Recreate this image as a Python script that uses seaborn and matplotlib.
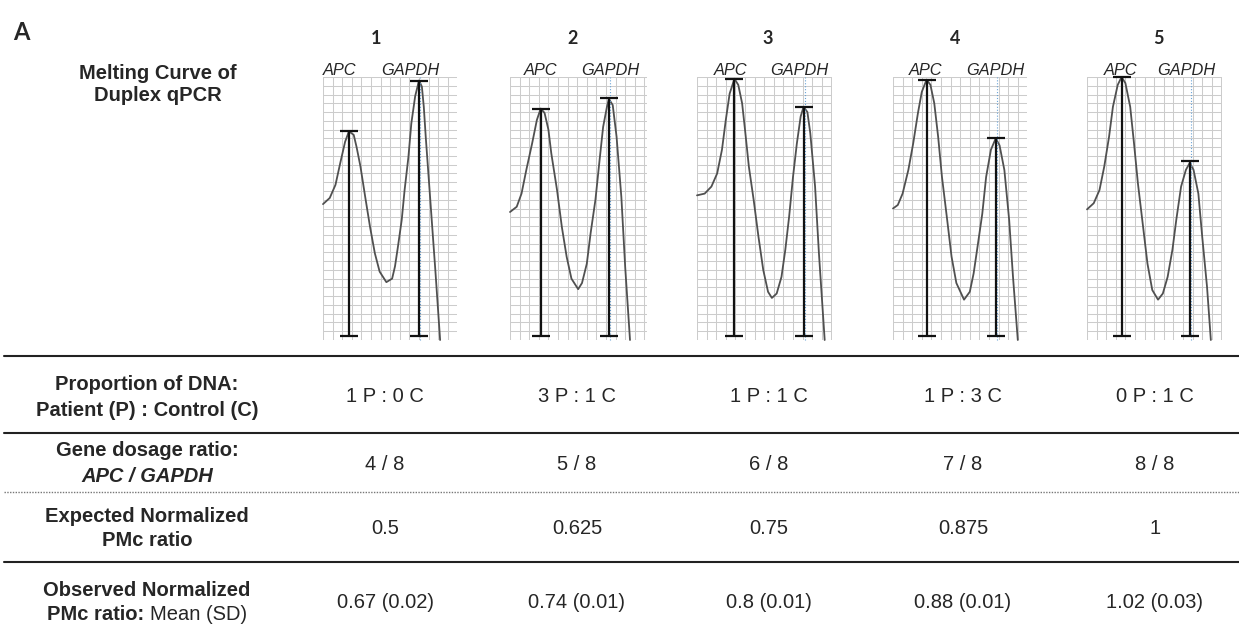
import seaborn as sns
import matplotlib.pyplot as plt
import pandas as pd
import numpy as np

# melting curves: temperature (C) and -dF/dT (grid units)
temp_p1 = [76.0, 76.7, 77.3, 77.8, 78.3, 78.7, 79.2, 79.5, 79.9, 80.4, 80.9, 81.4, 81.9, 82.6, 83.2,
           83.5, 83.8, 84.2, 84.5, 84.9, 85.2, 85.6, 86.0, 86.3, 86.5, 86.7, 87.2, 87.7, 88.2]
dfdt_p1 = [15.5, 16.2, 17.7, 20.2, 22.6, 23.8, 23.4, 22.0, 19.8, 16.3, 12.9, 9.9, 7.8, 6.6, 7.0,
           8.4, 10.6, 13.7, 17.1, 20.9, 24.7, 27.8, 29.6, 28.9, 26.6, 23.2, 15.6, 8.0, 0.0]

temp_p2 = [76.0, 76.7, 77.2, 77.7, 78.3, 78.8, 79.2, 79.6, 80.0, 80.3, 80.9, 81.4, 81.9, 82.4,
           83.1, 83.5, 84.0, 84.4, 84.9, 85.3, 85.7, 86.1, 86.3, 86.7, 87.1, 87.6, 88.0, 88.5]
dfdt_p2 = [14.6, 15.2, 16.7, 19.4, 22.4, 25.1, 26.4, 25.9, 24.0, 21.3, 17.1, 12.9, 9.5, 7.0,
           5.8, 6.5, 8.7, 12.2, 16.0, 20.2, 24.3, 26.6, 27.5, 26.8, 23.2, 16.3, 8.3, 0.0]

temp_p3 = [76.0, 76.8, 77.5, 78.1, 78.6, 79.0, 79.4, 79.9, 80.3, 80.7, 81.0, 81.4, 81.9, 82.4, 82.9,
           83.4, 83.8, 84.3, 84.8, 85.2, 85.6, 86.0, 86.4, 86.8, 87.1, 87.5, 87.8, 88.3, 88.7, 89.3]
dfdt_p3 = [16.5, 16.7, 17.5, 19.0, 21.7, 25.1, 28.1, 29.8, 29.1, 27.0, 24.0, 19.8, 16.0, 11.8, 8.0,
           5.5, 4.8, 5.3, 7.2, 10.3, 14.1, 18.6, 22.4, 25.5, 26.6, 26.0, 23.6, 17.5, 9.9, 0.0]

temp_p4 = [76.0, 76.5, 77.0, 77.6, 78.1, 78.6, 79.0, 79.5, 79.9, 80.3, 80.7, 81.1, 81.6, 82.1,
           82.6, 83.4, 84.0, 84.4, 84.8, 85.3, 85.7, 86.2, 86.7, 87.1, 87.6, 88.1, 88.5, 89.0]
dfdt_p4 = [15.0, 15.4, 16.7, 19.4, 22.4, 25.9, 28.3, 29.7, 29.1, 27.0, 23.2, 18.6, 14.1, 9.5,
           6.5, 4.6, 5.5, 7.6, 10.6, 14.4, 18.6, 21.7, 23.0, 22.2, 19.4, 13.7, 7.2, 0.0]

temp_p5 = [76.0, 76.7, 77.3, 77.8, 78.3, 78.7, 79.2, 79.6, 80.0, 80.5, 80.9, 81.3, 81.8, 82.3,
           82.8, 83.4, 83.9, 84.4, 84.9, 85.3, 85.8, 86.3, 86.7, 87.1, 87.6, 88.0, 88.5, 88.9]
dfdt_p5 = [14.9, 15.6, 17.1, 19.8, 23.2, 26.6, 29.1, 30.0, 29.3, 26.6, 22.4, 17.9, 13.3, 8.7,
           5.7, 4.6, 5.3, 7.2, 10.3, 13.7, 17.5, 19.4, 20.2, 19.4, 16.7, 11.8, 6.1, 0.0]

# peak heights marked with bars
apc_temp = [78.7, 79.2, 79.9, 79.5, 79.6]
apc_height = [23.8, 26.4, 29.8, 29.7, 30.0]
gapdh_temp = [86.0, 86.3, 87.1, 86.7, 86.7]
gapdh_height = [29.6, 27.6, 26.6, 23.0, 20.4]
bar_base = 0.45

# table
sample_ids = ["1", "2", "3", "4", "5"]
proportion = ["1 P : 0 C", "3 P : 1 C", "1 P : 1 C", "1 P : 3 C", "0 P : 1 C"]
dosage = ["4 / 8", "5 / 8", "6 / 8", "7 / 8", "8 / 8"]
expected = [0.5, 0.625, 0.75, 0.875, 1]
observed_mean = [0.67, 0.74, 0.8, 0.88, 1.02]
observed_sd = [0.02, 0.01, 0.01, 0.01, 0.03]

curves = [(temp_p1, dfdt_p1), (temp_p2, dfdt_p2), (temp_p3, dfdt_p3),
          (temp_p4, dfdt_p4), (temp_p5, dfdt_p5)]

# layout (pixels of the 1239x632 picture)
W, H = 1239, 632
panel_px = [(323, 457), (510, 647), (697, 832), (893, 1027), (1087, 1222)]
panel_top, panel_bot = 77, 340
apc_label_x = [77.7, 79.2, 79.5, 79.4, 79.5]
gapdh_label_x = [85.1, 86.5, 86.7, 86.7, 86.3]
num_x = [376, 573, 768, 955, 1158]
col_x = [385, 577, 769, 963, 1155]
label_x = 147
FS = 14.5


def fx(px):
    return px / W


def fy(py):
    return 1 - py / H


sns.set_theme(style="white")
plt.rcParams['font.family'] = ['Liberation Sans', 'DejaVu Sans']

fig = plt.figure(figsize=(12.39, 6.32), dpi=100)

# melting curve panels
for i, (temps, vals) in enumerate(curves):
    left, right = panel_px[i]
    ax = fig.add_axes([fx(left), fy(panel_bot), (right - left) / W, (panel_bot - panel_top) / H])
    df = pd.DataFrame({'Temp': temps, 'dFdT': vals})
    sns.lineplot(data=df, x='Temp', y='dFdT', ax=ax, color='#505050', linewidth=1.3,
                 estimator=None, sort=False)
    xmax = 76 + (right - left) / 9.6
    ax.set_xlim(76, xmax)
    ax.set_ylim(0, 30)
    ax.set_xticks(np.arange(76, xmax + 0.01, 1))
    ax.set_yticks(np.arange(0, 31, 1))
    ax.grid(True, color='#cccccc', linewidth=0.75)
    ax.set_axisbelow(True)
    ax.tick_params(length=0, labelbottom=False, labelleft=False)
    ax.set_xlabel('')
    ax.set_ylabel('')
    sns.despine(ax=ax, left=True, bottom=True)

    ax.axvline(gapdh_temp[i] + 0.1, color='#6aa3d6', linewidth=0.8, linestyle=':')
    for t, h in [(apc_temp[i], apc_height[i]), (gapdh_temp[i], gapdh_height[i])]:
        ax.errorbar([t], [(h + bar_base) / 2], yerr=[(h - bar_base) / 2], fmt='none',
                    ecolor='#111111', elinewidth=1.6, capsize=6.3, capthick=1.6)
    for art in ax.lines + list(ax.collections):
        art.set_clip_on(False)

    ax.text(apc_label_x[i], 30.25, 'APC', style='italic', fontsize=11.8, ha='center', va='baseline')
    ax.text(gapdh_label_x[i], 30.25, 'GAPDH', style='italic', fontsize=11.8, ha='center', va='baseline')
    fig.text(fx(num_x[i]), fy(44), sample_ids[i], family='Lato', weight='bold', fontsize=13,
             ha='center', va='baseline')

fig.text(fx(13), fy(40), 'A', family='Lato', weight='bold', fontsize=17, ha='left', va='baseline')
fig.text(fx(158), fy(79), 'Melting Curve of', weight='bold', fontsize=FS, ha='center', va='baseline')
fig.text(fx(158), fy(101), 'Duplex qPCR', weight='bold', fontsize=FS, ha='center', va='baseline')

# table rules
for y in [356, 433, 562]:
    fig.add_artist(plt.Line2D([fx(4), 1], [fy(y), fy(y)], color='#222222', linewidth=1.5))
fig.add_artist(plt.Line2D([fx(4), 1], [fy(492), fy(492)], color='#777777', linewidth=1.0,
                          linestyle=(0, (1, 1))))

# row labels
fig.text(fx(label_x), fy(390), 'Proportion of DNA:', weight='bold', fontsize=FS, ha='center', va='baseline')
fig.text(fx(label_x), fy(415.5), 'Patient (P) : Control (C)', weight='bold', fontsize=FS, ha='center', va='baseline')
fig.text(fx(label_x), fy(456.5), 'Gene dosage ratio:', weight='bold', fontsize=FS, ha='center', va='baseline')
fig.text(fx(label_x), fy(481.5), 'APC / GAPDH', weight='bold', style='italic', fontsize=FS, ha='center', va='baseline')
fig.text(fx(label_x), fy(521.5), 'Expected Normalized', weight='bold', fontsize=FS, ha='center', va='baseline')
fig.text(fx(label_x), fy(546), 'PMc ratio', weight='bold', fontsize=FS, ha='center', va='baseline')
fig.text(fx(label_x), fy(596), 'Observed Normalized', weight='bold', fontsize=FS, ha='center', va='baseline')
t1 = fig.text(0, fy(620.5), 'PMc ratio:', weight='bold', fontsize=FS, ha='left', va='baseline')
t2 = fig.text(0, fy(620.5), 'Mean (SD)', fontsize=FS, ha='left', va='baseline')
fig.canvas.draw()
r = fig.canvas.get_renderer()
w1 = t1.get_window_extent(r).width
w2 = t2.get_window_extent(r).width
gap = 5
start = label_x - (w1 + gap + w2) / 2
t1.set_x(fx(start))
t2.set_x(fx(start + w1 + gap))

# row values
for i in range(5):
    x = fx(col_x[i])
    fig.text(x, fy(402.5), proportion[i], fontsize=FS, ha='center', va='baseline')
    fig.text(x, fy(470), dosage[i], fontsize=FS, ha='center', va='baseline')
    fig.text(x, fy(534), f"{expected[i]:g}", fontsize=FS, ha='center', va='baseline')
    fig.text(x, fy(608.5), f"{observed_mean[i]:g} ({observed_sd[i]:.2f})", fontsize=FS,
             ha='center', va='baseline')

fig.savefig('out.png', dpi=100)
